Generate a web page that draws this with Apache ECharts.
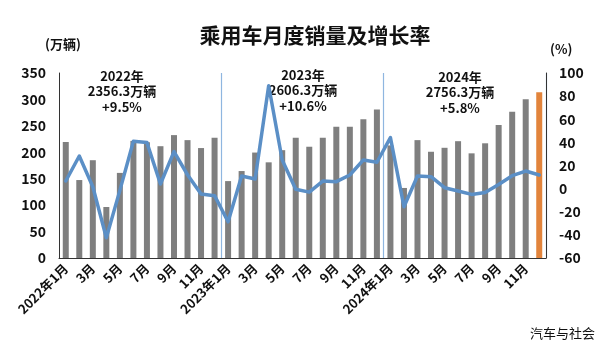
<!DOCTYPE html>
<html>
<head>
<meta charset="utf-8">
<script src="https://cdn.jsdelivr.net/npm/echarts@6/dist/echarts.min.js"></script>
<style>
  html, body { margin: 0; padding: 0; background: #fff; }
  #chart { width: 600px; height: 348px; }
</style>
</head>
<body>
<div id="chart"></div>
<script>
// Passenger-car monthly sales (万辆) and year-on-year growth (%), 2022–2024
const years = [2022, 2023, 2024];
const months = [1, 2, 3, 4, 5, 6, 7, 8, 9, 10, 11, 12];

const sales2022 = [219.5, 147.5, 185.0, 96.5, 161.0, 221.5, 219.0, 211.5, 232.5, 223.0, 208.0, 227.5];
const sales2023 = [145.5, 164.5, 199.5, 181.0, 204.0, 227.5, 210.5, 227.5, 248.5, 248.5, 262.5, 281.0];
const sales2024 = [213.0, 132.5, 223.0, 201.0, 208.5, 221.0, 198.0, 217.0, 251.5, 276.5, 300.5, 313.5];

const growth2022 = [6.6, 28.2, 1.6, -42.5, -1.5, 41.0, 39.8, 4.0, 32.0, 12.0, -4.7, -6.1];
const growth2023 = [-28.7, 10.9, 8.3, 89.0, 24.8, -0.5, -3.0, 6.5, 6.0, 11.8, 24.8, 22.8];
const growth2024 = [44.1, -15.7, 10.9, 10.3, 0.8, -2.0, -5.0, -3.3, 3.6, 11.2, 15.2, 11.8];

const leftTicks = { min: 0, max: 350, interval: 50 };
const rightTicks = { min: -60, max: 100, interval: 20 };

const yearNotes = [
  '2022年\n2356.3万辆\n+9.5%',
  '2023年\n2606.3万辆\n+10.6%',
  '2024年\n2756.3万辆\n+5.8%'
];

const categories = [];
years.forEach(y => months.forEach(m => categories.push(m === 1 ? y + '年1月' : m + '月')));
const sales = sales2022.concat(sales2023, sales2024);
const growth = growth2022.concat(growth2023, growth2024);

const FONT = '"Noto Sans CJK SC", "Noto Sans", sans-serif';
const GRAY = '#7f7f7f';
const ORANGE = '#e2843c';
const BLUE = '#5b8fc6';

// the latest month is highlighted in orange
const barData = sales.map((v, i) => i === sales.length - 1 ? { value: v, itemStyle: { color: ORANGE } } : v);

const chart = echarts.init(document.getElementById('chart'), null, { renderer: 'canvas' });

const note = (text, x, y) => ({
  type: 'text', x: x, y: y,
  style: { text: text, fill: '#111', font: 'bold 13px ' + FONT, align: 'center', lineHeight: 15.5 }
});

chart.setOption({
  animation: false,
  backgroundColor: '#fff',
  textStyle: { fontFamily: FONT },
  title: [
    {
      text: '乘用车月度销量及增长率', left: 310, top: 20, textAlign: 'center',
      textStyle: { fontSize: 21, fontWeight: 'bold', color: '#111', fontFamily: FONT }
    },
    {
      text: '(万辆)', left: 40, top: 33,
      textStyle: { fontSize: 13, fontWeight: 'bold', color: '#111', fontFamily: FONT }
    },
    {
      text: '(%)', left: 545, top: 38,
      textStyle: { fontSize: 13, fontWeight: 'bold', color: '#111', fontFamily: FONT }
    },
    {
      text: '汽车与社会', left: 525, top: 322,
      textStyle: { fontSize: 13, fontWeight: 'normal', color: '#111', fontFamily: FONT }
    }
  ],
  graphic: [
    note(yearNotes[0], 122, 68),
    note(yearNotes[1], 303, 67),
    note(yearNotes[2], 460, 69)
  ],
  grid: { left: 59, right: 54, top: 73, bottom: 90, containLabel: false },
  xAxis: {
    type: 'category',
    data: categories,
    boundaryGap: true,
    axisLine: { show: true, lineStyle: { color: '#333', width: 1 } },
    axisTick: { show: false },
    splitLine: {
      show: true,
      interval: (index) => index === 12 || index === 24,
      lineStyle: { color: '#8fb6e0', width: 1.2 }
    },
    axisLabel: {
      interval: 1, rotate: 45, margin: 8,
      fontSize: 13, fontWeight: 'bold', color: '#111', fontFamily: FONT
    }
  },
  yAxis: [
    {
      type: 'value', min: leftTicks.min, max: leftTicks.max, interval: leftTicks.interval,
      axisLine: { show: true, lineStyle: { color: '#333' } },
      axisTick: { show: false },
      splitLine: { show: false },
      axisLabel: { fontSize: 14, fontWeight: 'bold', color: '#111', margin: 13, fontFamily: FONT }
    },
    {
      type: 'value', min: rightTicks.min, max: rightTicks.max, interval: rightTicks.interval,
      position: 'right',
      axisLine: { show: true, lineStyle: { color: '#333' } },
      axisTick: { show: false },
      splitLine: { show: false },
      axisLabel: { fontSize: 14, fontWeight: 'bold', color: '#111', margin: 13, fontFamily: FONT }
    }
  ],
  series: [
    {
      name: '销量', type: 'bar', yAxisIndex: 0,
      data: barData, barWidth: 6,
      itemStyle: { color: GRAY }
    },
    {
      name: '增长率', type: 'line', yAxisIndex: 1,
      data: growth, symbol: 'none', smooth: false,
      lineStyle: { color: BLUE, width: 3.5, join: 'round', cap: 'round' }
    }
  ]
});
</script>
</body>
</html>
